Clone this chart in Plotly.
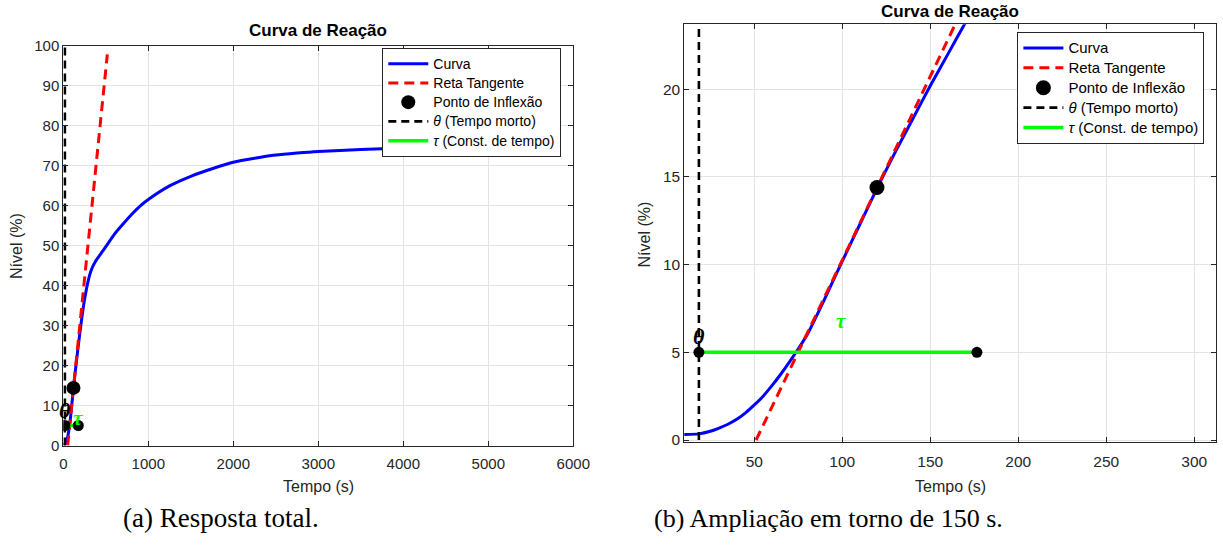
import plotly.graph_objects as go

OFF = 0
W, H = 1223, 547

# ---------------- data ----------------
t_curva = [0, 10, 18.5, 25, 30, 35, 40, 45, 50, 55, 60, 65, 70, 75, 80, 90, 100,
           110, 120, 130, 140, 150, 160, 170, 185, 200, 225, 250, 275, 300, 325,
           350, 375, 400, 450, 500, 600, 700, 800, 900, 1000, 1250, 1500, 1750,
           2000, 2250, 2500, 2750, 3000, 3500, 4000, 4500, 5000]
nivel_curva = [0.30, 0.31, 0.35, 0.50, 0.68, 0.90, 1.18, 1.55, 2.0, 2.5, 3.1, 3.75,
               4.45, 5.2, 6.0, 8.05, 10.2, 12.3, 14.4, 16.4, 18.3, 20.2, 22.0, 23.8,
               26.4, 29.0, 33.0, 36.5, 39.4, 41.8, 43.6, 44.9, 45.9, 46.7, 48.2,
               49.7, 52.8, 55.3, 57.7, 59.8, 61.5, 64.9, 67.3, 69.2, 70.8, 71.8,
               72.6, 73.1, 73.5, 74.0, 74.3, 74.5, 74.6]

t_tangente = [51, 518]
nivel_tangente = [0, 97.8]

t_inflexao = [119.7]
nivel_inflexao = [14.4]

t_theta = [18.5, 18.5]
nivel_theta = [0, 100]

t_tau = [18.5, 176.5]
nivel_tau = [5, 5]

x_ticks_a = [0, 1000, 2000, 3000, 4000, 5000, 6000]
y_ticks_a = [0, 10, 20, 30, 40, 50, 60, 70, 80, 90, 100]
x_ticks_b = [50, 100, 150, 200, 250, 300]
y_ticks_b = [0, 5, 10, 15, 20]

titulo = "Curva de Reação"
nome_curva = "Curva"
nome_tangente = "Reta Tangente"
nome_inflexao = "Ponto de Inflexão"
nome_theta = "<i>θ</i> (Tempo morto)"
nome_tau = "<i>τ</i> (Const. de tempo)"
legenda_a = "(a) Resposta total."
legenda_b = "(b) Ampliação em torno de 150 s."

# ---------------- figure ----------------
AX = "#262626"
GRID = "#e3e3e3"
SANS = "Liberation Sans"
SERIF = "Liberation Serif"


def fx(px):
    return (px - OFF) / W


def fy(py):
    return 1 - (py - OFF) / H


fig = go.Figure()


def styled(name, px):
    return "<span style='font-size:%spx'>%s</span>" % (px, name)


def add_panel(xa, ya, leg, msize_inf, msize_pt, fpx):
    fig.add_trace(go.Scatter(x=t_curva, y=nivel_curva, mode="lines", name=styled(nome_curva, fpx),
                             line=dict(color="#0000ff", width=3, shape="spline", smoothing=0.6),
                             xaxis=xa, yaxis=ya, legend=leg, legendgroup=leg + "1"))
    fig.add_trace(go.Scatter(x=t_tangente, y=nivel_tangente, mode="lines", name=styled(nome_tangente, fpx),
                             line=dict(color="#ff0000", width=3, dash="10px,6px"),
                             xaxis=xa, yaxis=ya, legend=leg, legendgroup=leg + "2"))
    fig.add_trace(go.Scatter(x=t_inflexao, y=nivel_inflexao, mode="markers", name=styled(nome_inflexao, fpx),
                             marker=dict(color="black", size=msize_inf),
                             xaxis=xa, yaxis=ya, legend=leg, legendgroup=leg + "3"))
    fig.add_trace(go.Scatter(x=t_theta, y=nivel_theta, mode="lines", name=styled(nome_theta, fpx),
                             line=dict(color="black", width=2.6, dash="8px,5px"),
                             xaxis=xa, yaxis=ya, legend=leg, legendgroup=leg + "4"))
    fig.add_trace(go.Scatter(x=t_tau, y=nivel_tau, mode="lines", name=styled(nome_tau, fpx),
                             line=dict(color="#00ff00", width=3.5),
                             xaxis=xa, yaxis=ya, legend=leg, legendgroup=leg + "5"))
    fig.add_trace(go.Scatter(x=t_tau, y=nivel_tau, mode="markers", showlegend=False,
                             marker=dict(color="black", size=msize_pt),
                             xaxis=xa, yaxis=ya, legend=leg))


add_panel("x", "y", "legend", 14, 11, 14)
add_panel("x2", "y2", "legend2", 15, 11, 15)


def axis(domain, rng, ticks, anchor, fsize, standoff=0):
    d = dict(domain=domain, range=rng, tickvals=ticks, anchor=anchor, automargin=False,
             showline=True, linecolor=AX, linewidth=1, mirror="ticks",
             ticks="inside", ticklen=5, tickcolor=AX, tickwidth=1,
             showgrid=True, gridcolor=GRID, gridwidth=1, zeroline=False,
             tickfont=dict(family=SANS, size=fsize, color=AX))
    if standoff:
        d["ticklabelstandoff"] = standoff
    return d


fig.update_layout(
    width=W, height=H,
    margin=dict(l=0, r=0, t=0, b=0, autoexpand=False),
    paper_bgcolor="white", plot_bgcolor="white",
    xaxis=axis([fx(63.3), fx(573.3)], [0, 6000], x_ticks_a, "y", 15, 4),
    yaxis=axis([fy(445.5), fy(45.5)], [0, 100], y_ticks_a, "x", 15),
    xaxis2=axis([fx(684.3), fx(1215.7)], [10.2, 312.2], x_ticks_b, "y2", 15.5, 5),
    yaxis2=axis([fy(442.3), fy(24.3)], [-0.13, 23.7], y_ticks_b, "x2", 15.5),
    legend=dict(x=fx(382.3), y=fy(48), xanchor="left", yanchor="top", itemwidth=40,
                bgcolor="white", bordercolor=AX, borderwidth=1, tracegroupgap=0,
                font=dict(family=SANS, size=12.5, color="black")),
    legend2=dict(x=fx(1017.4), y=fy(32), xanchor="left", yanchor="top", itemwidth=40,
                 bgcolor="white", bordercolor=AX, borderwidth=1, tracegroupgap=0,
                 font=dict(family=SANS, size=13, color="black")),
)


def pann(text, x, y, size, color="black", family=SANS, angle=0):
    return dict(text=text, x=fx(x), y=fy(y), xref="paper", yref="paper",
                xanchor="center", yanchor="middle", textangle=angle, showarrow=False,
                font=dict(family=family, size=size, color=color))


ann = []
ann.append(pann("<b>" + titulo + "</b>", 318.3, 31, 17))
ann.append(pann("<b>" + titulo + "</b>", 950, 12, 17))
ann.append(pann("Tempo (s)", 318.3, 486, 16, AX))
ann.append(pann("Tempo (s)", 950, 486, 16, AX))
ann.append(pann("Nível (%)", 17, 246, 16, AX, angle=-90))
ann.append(pann("Nível (%)", 644.5, 235, 16, AX, angle=-90))
ann.append(pann(legenda_a, 221, 518, 27, "black", SERIF))
ann.append(pann(legenda_b, 828, 518, 26, "black", SERIF))

for xr, yr in (("x", "y"), ("x2", "y2")):
    ann.append(dict(text="<b><i>θ</i></b>", x=t_theta[0], y=nivel_tau[0], xref=xr, yref=yr,
                    xanchor="center", yanchor="bottom", yshift=1, showarrow=False,
                    font=dict(family=SERIF, size=22, color="black")))
    ann.append(dict(text="<b><i>τ</i></b>", x=95.5, y=6.8, xref=xr, yref=yr,
                    xanchor="left", yanchor="middle", showarrow=False,
                    font=dict(family=SERIF, size=21, color="#00ff00")))

fig.update_layout(annotations=ann)
# remove the browser's default 8px body margin so the figure fills the window exactly
fig.write_html("out.html", config={"displayModeBar": False},
               post_script="document.body.style.margin='0px';")
